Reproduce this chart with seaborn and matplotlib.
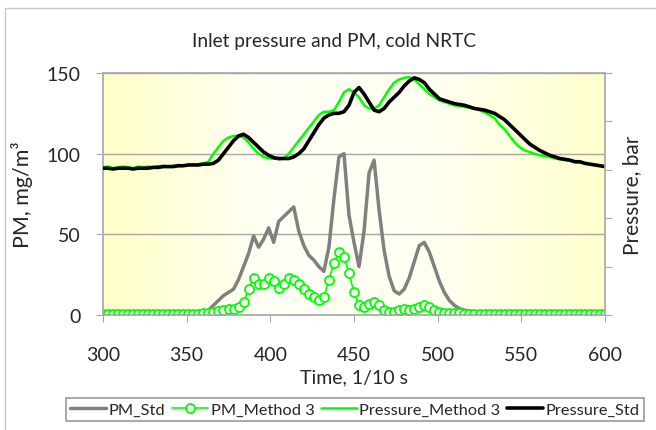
# Inlet pressure and PM, cold NRTC
import numpy as np
import seaborn as sns
import matplotlib.pyplot as plt
from matplotlib.colors import LinearSegmentedColormap
from matplotlib.lines import Line2D

## Dados (tempo em 1/10 s)
tempo = list(range(300, 601, 3))

pm_std = [0.5, 0.5, 0.4, 0.5, 0.5, 0.4, 0.5, 0.5, 0.5, 0.4,
          0.5, 0.5, 0.5, 0.6, 0.5, 0.6, 0.6, 0.7, 0.8, 1.0,
          1.5, 3, 6, 9, 12, 14, 16, 22, 30, 38,
          49, 42, 47, 54, 45, 58, 61, 64, 67, 52,
          43, 37, 34, 30, 27, 42, 72, 98, 100, 62,
          45, 30, 52, 88, 96, 65, 40, 24, 15, 13,
          16, 23, 33, 43, 45, 39, 30, 21, 14, 9,
          6, 4, 3, 2.5, 2, 1.5, 1.2, 1.0, 0.9, 0.8,
          0.8, 0.7, 0.8, 0.7, 0.7, 0.6, 0.7, 0.6, 0.6, 0.6,
          0.5, 0.6, 0.5, 0.5, 0.5, 0.5, 0.5, 0.5, 0.5, 0.5,
          0.5]

pm_metodo3 = [0.5, 0.4, 0.5, 0.5, 0.4, 0.5, 0.5, 0.5, 0.4, 0.5,
              0.5, 0.5, 0.6, 0.5, 0.6, 0.6, 0.7, 0.7, 0.8, 0.9,
              1.2, 1.5, 2, 2.5, 3, 3.5, 4, 5, 8, 16,
              23, 19, 19, 23, 21, 17, 19, 23, 22, 19,
              16, 13, 11, 9, 11, 22, 32, 39, 36, 26,
              14, 6, 5, 7, 8, 6, 3, 2, 2, 3,
              4, 3, 4, 5, 6, 5, 3, 2, 1.5, 1.2,
              1.0, 1.0, 0.9, 0.9, 0.8, 0.9, 0.8, 0.8, 0.9, 0.8,
              0.8, 0.7, 0.8, 0.8, 0.9, 0.8, 0.8, 0.7, 0.8, 0.8,
              0.7, 0.8, 0.8, 0.7, 0.7, 0.8, 0.8, 0.7, 0.8, 0.8,
              0.8]

pressao_metodo3 = [91.5, 92, 91, 91.5, 92, 91.5, 91, 92, 91.5, 92,
                   91.5, 92, 92.5, 92, 92.5, 93, 92.5, 93, 93, 93.5,
                   94, 95, 100, 104, 108, 110, 111, 111, 110, 107,
                   103, 100, 98, 97, 97, 96.5, 97, 100, 104, 108,
                   112, 116, 120, 124, 126, 126, 127, 132, 138, 140,
                   138, 135, 130, 128, 128, 130, 135, 140, 144, 146,
                   147, 147.5, 146, 143, 140, 137, 135, 133, 132, 131,
                   130, 129.5, 129, 128.5, 128, 127, 125.5, 124, 122, 118,
                   115, 111, 107, 104, 102, 101, 100, 99, 98.5, 98,
                   97, 96.5, 96, 95.5, 95, 94.5, 94, 93.5, 93, 92.5,
                   92]

pressao_std = [91, 91, 90.5, 91, 91, 91, 90.5, 91, 91, 91,
               91.5, 91.5, 92, 92, 92, 92.5, 92.5, 93, 93, 93,
               93.5, 93.5, 94, 96, 100, 104, 108, 111, 112, 110,
               107, 104, 101, 99, 97.5, 97, 97, 97, 98, 100,
               103, 108, 113, 118, 122, 124, 125, 125, 126, 130,
               138, 141, 137, 132, 127, 126, 128, 132, 135, 138,
               142, 145, 147, 146, 144, 140, 137, 134, 133, 132,
               131, 130.5, 130, 129, 128, 127.5, 127, 126, 125, 123,
               121, 118, 115, 112, 109, 106, 104, 102, 100.5, 99,
               98, 97, 96.5, 96, 95, 95, 94, 93.5, 93, 92.5,
               92]

ticksX = [300, 350, 400, 450, 500, 550, 600]
ticksPM = [0, 50, 100, 150]
ticksPressao = [0, 30, 60, 90, 120, 150]

sns.set_style("white")
plt.rcParams["font.family"] = ["Lato", "DejaVu Sans"]

fig = plt.figure(figsize=(6.56, 4.31), dpi=100)
rect = [103 / 656, 1 - 316 / 431, 502 / 656, 242 / 431]

### Fundo amarelo em degradê da área do gráfico
fundo = fig.add_axes(rect, zorder=0)
cmapFundo = LinearSegmentedColormap.from_list("fundo", ["#ffffc6", "#fffff6", "#fffff0", "#ffffcc"])
fundo.imshow(np.linspace(0, 1, 256).reshape(1, -1), cmap=cmapFundo, aspect="auto")
fundo.axis("off")

ax = fig.add_axes(rect, zorder=1)
ax.set_facecolor("none")

sns.lineplot(x=tempo, y=pm_std, ax=ax, color="#808080", lw=2.5, label="PM_Std", legend=False)
sns.lineplot(x=tempo, y=pm_metodo3, ax=ax, color="#00ff00", lw=1.2, marker="o", markersize=6.5,
             markerfacecolor="white", markeredgecolor="#00ff00", markeredgewidth=1.3,
             label="PM_Method 3", legend=False)

ax.set_xlim(300, 600)
ax.set_ylim(0, 150)
ax.set_xticks(ticksX)
ax.set_yticks(ticksPM)
ax.grid(axis="y", color="#a6a6a6", lw=1)
ax.set_axisbelow(True)
for lado in ["left", "bottom", "top"]:
    ax.spines[lado].set_color("#a6a6a6")
    ax.spines[lado].set_linewidth(1.2)
ax.spines["right"].set_visible(False)
ax.tick_params(axis="x", direction="out", length=5, color="#a6a6a6", pad=17, labelsize=14, bottom=True)
ax.tick_params(axis="y", direction="out", length=5, color="#a6a6a6", pad=11, labelsize=14, left=True)
ax.set_xlabel("Time, 1/10 s", fontsize=14, labelpad=4)
ax.set_ylabel("PM, mg/m³", fontsize=15.5, labelpad=10)

ax2 = ax.twinx()
sns.lineplot(x=tempo, y=pressao_metodo3, ax=ax2, color="#00ff00", lw=1.8, label="Pressure_Method 3", legend=False)
sns.lineplot(x=tempo, y=pressao_std, ax=ax2, color="black", lw=2.6, label="Pressure_Std", legend=False)
ax2.set_ylim(0, 150)
ax2.set_yticks(ticksPressao)
ax2.set_yticklabels([])
ax2.tick_params(axis="y", direction="out", length=5, color="#a6a6a6", right=True)
for lado in ["left", "bottom", "top"]:
    ax2.spines[lado].set_visible(False)
ax2.spines["right"].set_color("#a6a6a6")
ax2.spines["right"].set_linewidth(1.2)
ax2.set_ylabel("Pressure, bar", fontsize=15, labelpad=4)

fig.text(0.51, 1 - 42 / 431, "Inlet pressure and PM, cold NRTC", ha="center", va="center", fontsize=13.8)

h1, l1 = ax.get_legend_handles_labels()
h2, l2 = ax2.get_legend_handles_labels()
leg = fig.legend(h1 + h2, l1 + l2, loc="center", bbox_to_anchor=(355 / 656, 1 - 410.5 / 431), ncol=4,
                 frameon=True, fancybox=False, edgecolor="#808080", fontsize=11.8,
                 handlelength=2.2, handletextpad=0.15, columnspacing=0.4, borderpad=0.25)
leg.get_frame().set_linewidth(1.2)

### Moldura externa
fig.add_artist(Line2D([5 / 656, 5 / 656], [0, 1 - 9 / 431], color="#c8c8c8", lw=1, transform=fig.transFigure))
fig.add_artist(Line2D([5 / 656, 1], [1 - 9 / 431, 1 - 9 / 431], color="#c8c8c8", lw=1, transform=fig.transFigure))

fig.savefig("out.png", dpi=100)
